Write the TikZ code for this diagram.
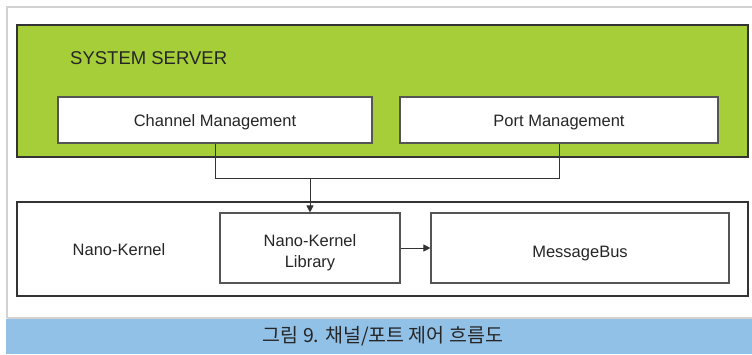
\documentclass[tikz,border=0pt]{standalone}
\usepackage{fontspec}
\setmainfont{Liberation Sans}
\newfontfamily\krfont{Noto Sans CJK KR}
\usetikzlibrary{arrows.meta}
\definecolor{srvgreen}{HTML}{A6CE39}
\definecolor{capblue}{HTML}{92C1E8}
\definecolor{framegray}{HTML}{D2D2D2}
\definecolor{edge}{HTML}{333333}
\definecolor{inneredge}{HTML}{555555}
\begin{document}
\begin{tikzpicture}[x=1pt,y=-1pt,
  box/.style={draw=edge,line width=1.1pt},
  inbox/.style={draw=inneredge,line width=1.1pt,fill=white,inner sep=0pt,align=center,
    font=\fontsize{16.5}{21}\selectfont,text=black!85},
  wire/.style={draw=edge,line width=1pt},
  tip/.style={-{Triangle[length=7pt,width=7pt]}},
  lbl/.style={font=\fontsize{16.5}{21}\selectfont,text=black!85}]
\useasboundingbox (0,0) rectangle (752,354);
% outer frame and caption band
\draw[framegray,line width=2pt] (7,317.5) -- (7,7) -- (752,7);
\draw[framegray,line width=2pt] (7,317.5) -- (752,317.5);
\fill[capblue] (6,319) rectangle (752,354);
\node[font=\krfont\fontsize{19.5}{22}\selectfont,text=black!85] (cap) at (383,336) {그림 9. 채널/포트 제어 흐름도};
% system server block
\path[box,fill=srvgreen] (17,25) rectangle (748,157);
\node[font=\fontsize{18.5}{22}\selectfont,text=black!85,anchor=west,inner sep=0pt] (sys) at (70,58) {SYSTEM SERVER};
\node[inbox,minimum width=314pt,minimum height=46pt,text height=16pt,text depth=3.5pt] (chan) at (215,120) {Channel Management};
\node[inbox,minimum width=318pt,minimum height=46pt,text height=16pt,text depth=3.5pt] (port) at (559,120) {Port Management};
% nano-kernel block
\path[box,fill=white] (17,202) rectangle (748,296);
\node[lbl,text height=16pt,text depth=3.5pt] (nk) at (119,249) {Nano-Kernel};
\node[inbox,minimum width=180pt,minimum height=70pt,text height=43pt,text depth=3.5pt] (lib) at (310,248) {Nano-Kernel\\Library};
\node[inbox,minimum width=298pt,minimum height=70pt,text height=22pt,text depth=3.5pt] (bus) at (580,248) {MessageBus};
% connectors
\coordinate (j) at (310,178);
\draw[wire] (chan.south) -- (chan.south |- j) -- (port.south |- j) -- (port.south);
\draw[wire,tip] (j) -- (lib.north);
\draw[wire,tip] (lib.east) -- (bus.west);
\end{tikzpicture}
\end{document}
